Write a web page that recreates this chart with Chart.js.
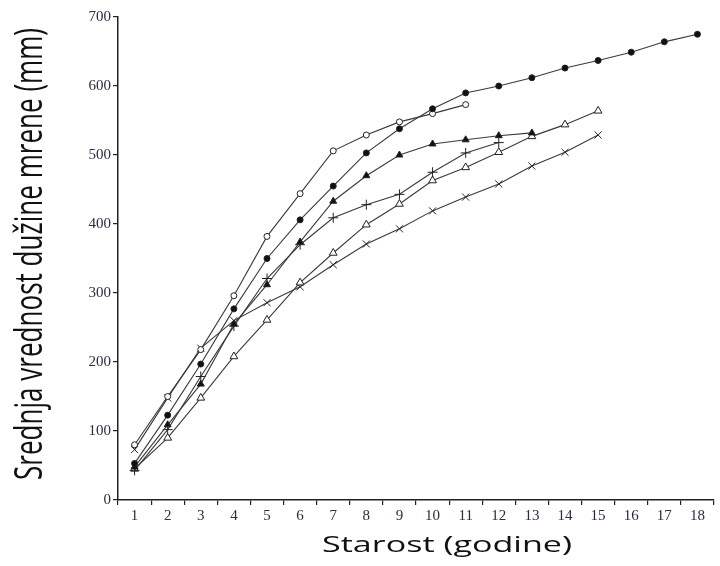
<!DOCTYPE html>
<html lang="sr">
	<head>
		<meta charset="utf-8"/>
		<title>Srednja vrednost dužine mrene</title>
		<script src="https://cdn.jsdelivr.net/npm/chart.js@4.4.1/dist/chart.umd.min.js"></script>
		<style>
			html, body {
				margin: 0;
				padding: 0;
				background-color: #ffffff;
			}
			.container {
				width: 720px;
				height: 566px;
			}
		</style>
	</head>

	<body>
		<div class="container">
			<canvas id="myChart" width="720" height="566"></canvas>
		</div>

		<script>
			// starost (godine)
			const ages = ['1','2','3','4','5','6','7','8','9','10','11','12','13','14','15','16','17','18'];
			const yTicks = [0, 100, 200, 300, 400, 500, 600, 700];

			// srednja duzina (mm), procitano sa slike
			const openCircle     = [80, 150, 218, 296, 382, 444, 506, 529, 548, 560, 573];
			const filledCircle   = [53, 123, 197, 277, 350, 406, 455, 503, 538, 567, 590, 600, 612, 626, 637, 649, 664, 675];
			const filledTriangle = [48, 109, 168, 255, 312, 374, 433, 470, 500, 516, 522, 528, 532];
			const plusSeries     = [43, 102, 179, 252, 321, 370, 409, 428, 443, 475, 503, 518];
			const openTriangle   = [45, 90, 148, 208, 261, 315, 358, 399, 429, 463, 482, 504, 527, 544, 564];
			const crossSeries    = [73, 148, 220, 260, 286, 309, 341, 371, 393, 419, 439, 458, 484, 504, 529];

			const xTitleText = 'Starost (godine)';
			const yTitleText = 'Srednja vrednost dužine mrene (mm)';

			const lineColor = '#3a3a3a';
			const tickFont = {family: '"Liberation Serif", "DejaVu Serif", serif', size: 15};

			function serie(label, data, style, radius, fill) {
				return {
					label: label,
					data: data,
					borderColor: lineColor,
					borderWidth: 1.1,
					backgroundColor: fill,
					pointStyle: style,
					pointRadius: radius,
					pointBorderColor: '#222222',
					pointBackgroundColor: fill,
					pointBorderWidth: 1,
					tension: 0,
					fill: false
				};
			}

			// original je razvucen po sirini, pa se naslovi osa crtaju rastegnuto
			function stretchedText(ctx, text, size, length) {
				ctx.font = size + 'px "Open Sans", "Noto Sans", sans-serif';
				const w = ctx.measureText(text).width;
				ctx.scale(length / w, 1);
				ctx.fillText(text, 0, 0);
			}

			const axisTitles = {
				id: 'axisTitles',
				afterDraw(chart) {
					const ctx = chart.ctx;
					const area = chart.chartArea;
					ctx.save();
					ctx.fillStyle = '#111111';
					ctx.textAlign = 'left';
					ctx.textBaseline = 'alphabetic';

					ctx.save();
					ctx.translate(area.left + 204, area.bottom + 52);
					stretchedText(ctx, xTitleText, 21, 250);
					ctx.restore();

					ctx.save();
					ctx.translate(area.left - 76, area.bottom - 20);
					ctx.rotate(-Math.PI / 2);
					stretchedText(ctx, yTitleText, 38, 452);
					ctx.restore();

					ctx.restore();
				}
			};

			let ch1 = document.getElementById('myChart').getContext('2d');
			let chart1 = new Chart(ch1, {
				type: 'line',
				data: {
					labels: ages,
					datasets: [
						serie('filledCircle', filledCircle, 'circle', 3, '#111111'),
						serie('openCircle', openCircle, 'circle', 3, '#ffffff'),
						serie('filledTriangle', filledTriangle, 'triangle', 4, '#111111'),
						serie('plus', plusSeries, 'cross', 5, '#ffffff'),
						serie('openTriangle', openTriangle, 'triangle', 4.5, '#ffffff'),
						serie('cross', crossSeries, 'crossRot', 5, '#ffffff')
					]
				},
				plugins: [axisTitles],
				options: {
					responsive: false,
					animation: false,
					layout: {
						padding: {top: 17, right: 2, bottom: 0, left: 0}
					},
					plugins: {
						legend: {display: false},
						tooltip: {enabled: false}
					},
					scales: {
						x: {
							type: 'category',
							offset: true,
							afterFit: function(scale) { scale.height = 66; },
							grid: {
								offset: true,
								drawOnChartArea: false,
								drawTicks: true,
								tickLength: 5,
								color: '#222222',
								lineWidth: 1.2
							},
							border: {display: true, color: '#222222', width: 1.5},
							ticks: {
								font: tickFont,
								color: '#2b2b45',
								padding: 2,
								maxRotation: 0,
								autoSkip: false
							}
						},
						y: {
							min: 0,
							max: 700,
							afterFit: function(scale) { scale.width = 118; },
							afterBuildTicks: function(scale) {
								scale.ticks = yTicks.map(v => ({value: v}));
							},
							grid: {
								drawOnChartArea: false,
								drawTicks: true,
								tickLength: 5,
								color: '#222222',
								lineWidth: 1.2
							},
							border: {display: true, color: '#222222', width: 1.5},
							ticks: {
								font: tickFont,
								color: '#2b2b45',
								padding: 2
							}
						}
					}
				}
			});
		</script>
	</body>
</html>
